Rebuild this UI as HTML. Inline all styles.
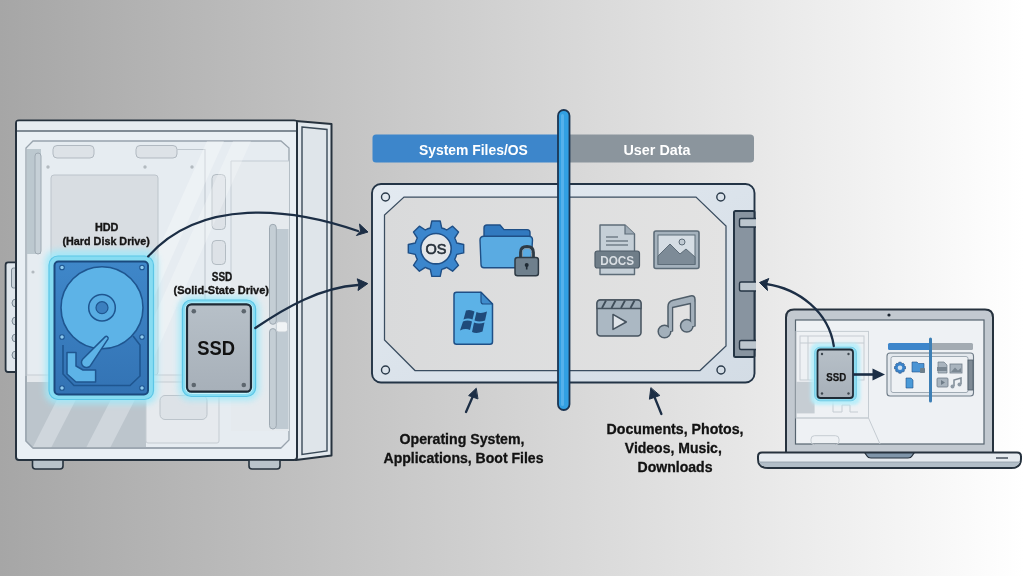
<!DOCTYPE html>
<html><head><meta charset="utf-8">
<style>
html,body{margin:0;padding:0;width:1024px;height:576px;overflow:hidden;}
body{background:linear-gradient(90deg,#a6a6a6 0%,#ffffff 100%);font-family:"Liberation Sans",sans-serif;}
svg{position:absolute;left:0;top:0;will-change:transform;}
text{-webkit-font-smoothing:antialiased;}
</style></head><body>
<svg width="1024" height="576" viewBox="0 0 1024 576" font-family="Liberation Sans, sans-serif">
<defs>
  <filter id="glow" x="-40%" y="-40%" width="180%" height="180%">
    <feGaussianBlur stdDeviation="3"/>
  </filter>
  <filter id="glow2" x="-40%" y="-40%" width="180%" height="180%">
    <feGaussianBlur stdDeviation="1.6"/>
  </filter>
  <linearGradient id="hddg" x1="0" y1="0" x2="0" y2="1">
    <stop offset="0" stop-color="#3f87c9"/><stop offset="1" stop-color="#3373b4"/>
  </linearGradient>
  <linearGradient id="ssdg" x1="0" y1="0" x2="0" y2="1">
    <stop offset="0" stop-color="#b7c0c8"/><stop offset="1" stop-color="#a7b0b9"/>
  </linearGradient>
  <linearGradient id="innerg" x1="0" y1="0" x2="1" y2="0">
    <stop offset="0" stop-color="#d9dadb"/><stop offset="1" stop-color="#e3e3e3"/>
  </linearGradient>
  <linearGradient id="frameg" x1="0" y1="0" x2="1" y2="1">
    <stop offset="0" stop-color="#e3eaf1"/><stop offset="1" stop-color="#d3dce5"/>
  </linearGradient>
</defs>

<!-- ================= PC CASE ================= -->
<g id="case">
  <!-- front IO bump -->
  <rect x="5.6" y="262.4" width="12" height="109.6" rx="2.5" fill="#dfe6ec" stroke="#26323e" stroke-width="1.8"/>
  <g fill="#c9d2d9" stroke="#7d8a95" stroke-width="1">
    <rect x="11.5" y="268" width="5" height="20" rx="2"/>
    <path d="M16,299 A3.5,3.5 0 0 0 16,307 Z"/>
    <path d="M16,317 A3.5,3.5 0 0 0 16,325 Z"/>
    <path d="M16,334 A3.5,3.5 0 0 0 16,342 Z"/>
    <path d="M16,351 A3.5,3.5 0 0 0 16,359 Z"/>
  </g>
  <!-- side panel -->
  <polygon points="296,121 331.5,124 331.5,455.5 296,460" fill="#e2e8ed" stroke="#26323e" stroke-width="2" stroke-linejoin="round"/>
  <polygon points="302,127 327,129.5 327,451 302,454.5" fill="#dfe5ea" stroke="#3a4a58" stroke-width="1.4"/>
  <!-- front body -->
  <rect x="16" y="120.5" width="281" height="339.5" rx="3" fill="#e9eff4" stroke="#26323e" stroke-width="2"/>
  <rect x="17" y="121.5" width="279" height="9.5" fill="#e6ecf1"/>
  <line x1="17" y1="131" x2="296" y2="131" stroke="#5c6a76" stroke-width="1.3"/>
  <!-- inner frame -->
  <path d="M33,141 L281,141 L289,148 L289,440 L281,448 L33,448 L26,441 L26,148 Z" fill="#e6ecf1" stroke="#98a3ad" stroke-width="1.3"/>
  <!-- top slots -->
  <rect x="53" y="145.5" width="41" height="12.5" rx="4" fill="#dde2e7" stroke="#b1b9c1" stroke-width="1"/>
  <rect x="136" y="145.5" width="41" height="12.5" rx="4" fill="#dde2e7" stroke="#b1b9c1" stroke-width="1"/>
  <!-- rail left -->
  <rect x="27" y="149" width="14" height="105" fill="#bcc8cf"/>
  <rect x="35" y="153" width="6" height="101" rx="3" fill="#c6d0d7" stroke="#9ea9b2" stroke-width="1"/>
  <line x1="26.6" y1="254" x2="26.6" y2="376" stroke="#b3bcc4" stroke-width="1.2"/>
  <!-- dots -->
  <g fill="#b3bac0">
  <circle cx="48" cy="167" r="1.7"/><circle cx="145" cy="167" r="1.7"/><circle cx="192" cy="167" r="1.7"/><circle cx="33" cy="272" r="1.6"/>
  </g>
  <!-- HDD bay panel -->
  <rect x="51" y="175" width="107" height="200" rx="3" fill="#d8dde2" stroke="#bcc4cb" stroke-width="1"/>
  <!-- mid panel outline -->
  <path d="M177,149.5 L205,149.5 L205,376" fill="none" stroke="#bfc7ce" stroke-width="1.1"/>
  <!-- vertical slots -->
  <rect x="212" y="174.5" width="13.5" height="55" rx="4" fill="#dde2e7" stroke="#b3bcc3" stroke-width="1"/>
  <rect x="212" y="240.5" width="13.5" height="24" rx="4" fill="#dde2e7" stroke="#b3bcc3" stroke-width="1"/>
  <!-- right panel -->
  <rect x="231" y="161" width="58" height="270" fill="#e5eaee"/>
  <path d="M231,280 L231,161 L289,161" fill="none" stroke="#c3cbd2" stroke-width="1"/>
  <rect x="276" y="229" width="12.5" height="200" fill="#bfcad2"/>
  <rect x="269.5" y="224.3" width="6.8" height="100" rx="3.4" fill="#c4ced5" stroke="#9ea9b2" stroke-width="1"/>
  <rect x="269.5" y="328.6" width="6.8" height="100.4" rx="3.4" fill="#c4ced5" stroke="#9ea9b2" stroke-width="1"/>
  <rect x="276.3" y="321.7" width="11.3" height="10.3" rx="2.5" fill="#f0f3f5" stroke="#c4ccd3" stroke-width="1"/>
  <!-- horizontal band -->
  <rect x="27" y="375" width="204" height="7" fill="#e4e8ec"/>
  <line x1="27" y1="375" x2="231" y2="375" stroke="#c6cdd3" stroke-width="1"/>
  <!-- PSU shroud -->
  <clipPath id="psuclip"><polygon points="27,382 146,382 146,447.5 33,447.5 27,441.5"/></clipPath>
  <polygon points="27,382 146,382 146,447.5 33,447.5 27,441.5" fill="#bcc5cc"/>
  <g clip-path="url(#psuclip)" fill="#cfd6dc">
    <polygon points="32.5,448 51,448 85,382 66,382"/>
    <polygon points="86,448 110,448 144,382 120,382"/>
  </g>
  <rect x="146" y="382" width="73" height="61" rx="2" fill="#e6eaee" stroke="#c5ccd2" stroke-width="1"/>
  <rect x="160" y="395.5" width="47" height="24" rx="5" fill="#dde2e7" stroke="#bcc4cb" stroke-width="1"/>
  <path d="M33,448 L26,441 L26,376" fill="none" stroke="#98a3ad" stroke-width="1.3"/>
  <line x1="33" y1="448" x2="281" y2="448" stroke="#98a3ad" stroke-width="1.3"/>
  <!-- glass reflections -->
  <clipPath id="glassclip"><rect x="27" y="141" width="261" height="234"/></clipPath>
  <g clip-path="url(#glassclip)" fill="#ffffff">
    <polygon points="207,141 224,141 119,375 102,375" opacity="0.3"/>
    <polygon points="233,141 251,141 146,375 128,375" opacity="0.25"/>
  </g>
  <!-- feet -->
  <path d="M32.5,460 L63,460 L63,466 Q63,469 60,469 L35.5,469 Q32.5,469 32.5,466 Z" fill="#b9c3cb" stroke="#26323e" stroke-width="1.6"/>
  <path d="M249,460 L280,460 L280,466 Q280,469 277,469 L252,469 Q249,469 249,466 Z" fill="#b9c3cb" stroke="#26323e" stroke-width="1.6"/>
</g>

<!-- ============ HDD ============ -->
<g id="hdd">
  <rect x="45" y="250" width="112.5" height="154" rx="12" fill="#9fe9fa" opacity="0.85" filter="url(#glow)"/>
  <rect x="49" y="256" width="104.5" height="143.5" rx="9" fill="#86dcf2" stroke="#5cc6e6" stroke-width="1.2"/>
  
  <rect x="54.5" y="261.5" width="93.5" height="133" rx="4" fill="url(#hddg)" stroke="#1b4a7e" stroke-width="2"/>
  <path d="M63,345 L63,374 L74,385.5 L130,385.5 L140,376 L140,345 L133,336" fill="none" stroke="#1f5690" stroke-width="1.6"/>
  <circle cx="102" cy="307.7" r="41" fill="#5db3e7" stroke="#1f5690" stroke-width="1.6"/>
  <circle cx="102" cy="307.7" r="13.3" fill="#58ade3" stroke="#1f5690" stroke-width="1.5"/>
  <circle cx="102" cy="307.7" r="6" fill="#3b7fbf" stroke="#1f5690" stroke-width="1.2"/>
  <path d="M105.1,336.9 A1.8,1.8 0 0 1 107.9,339.1 L90.4,365.7 A5,5 0 0 1 82.6,359.3 Z" fill="#5db3e7" stroke="#1f5690" stroke-width="1.5" stroke-linejoin="round"/>
  <path d="M67,352.5 L76,352.5 L76,366 L83,370 L95.6,370 L95.6,382 L76,382 L67,374 Z" fill="#5db3e7" stroke="#1f5690" stroke-width="1.5" stroke-linejoin="round"/>
  <g fill="#8fcbef" stroke="#1f5690" stroke-width="1.1">
    <circle cx="62" cy="267.5" r="2.3"/><circle cx="142" cy="267.5" r="2.3"/>
    <circle cx="62" cy="337" r="2.3"/><circle cx="142" cy="337" r="2.3"/>
    <circle cx="62" cy="388" r="2.3"/><circle cx="142" cy="388" r="2.3"/>
  </g>
</g>

<!-- ============ SSD ============ -->
<g id="ssd">
  <rect x="178.5" y="296.5" width="81" height="104" rx="12" fill="#9fe9fa" opacity="0.85" filter="url(#glow)"/>
  <rect x="182.4" y="300" width="73.2" height="96.5" rx="9" fill="#86dcf2" stroke="#5cc6e6" stroke-width="1.2"/>
  <rect x="185.4" y="303" width="67.2" height="90.5" rx="6" fill="none" stroke="#c6f3fb" stroke-width="1"/>
  <rect x="187" y="304.3" width="64" height="87.4" rx="4.5" fill="url(#ssdg)" stroke="#1f2a35" stroke-width="2.2"/>
  <g fill="#5d666e"><circle cx="193.8" cy="311.3" r="2.3"/><circle cx="243.8" cy="311.3" r="2.3"/><circle cx="193.8" cy="385" r="2.3"/><circle cx="243.8" cy="385" r="2.3"/></g>
  <text x="216.2" y="355.2" font-size="19.5" font-weight="bold" fill="#111" text-anchor="middle" textLength="37.8" lengthAdjust="spacingAndGlyphs">SSD</text>
</g>

<!-- labels -->
<g font-weight="bold" fill="#151515" stroke="#151515" stroke-width="0.35" text-anchor="middle">
  <text x="106.7" y="231" font-size="10" textLength="23.5" lengthAdjust="spacingAndGlyphs">HDD</text>
  <text x="106.2" y="245" font-size="11.5" textLength="87.5" lengthAdjust="spacingAndGlyphs">(Hard Disk Drive)</text>
  <text x="222" y="280.5" font-size="12" textLength="20.5" lengthAdjust="spacingAndGlyphs">SSD</text>
  <text x="221.3" y="293.5" font-size="11.5" textLength="95.5" lengthAdjust="spacingAndGlyphs">(Solid-State Drive)</text>
</g>

<!-- arrows from case -->
<g fill="none" stroke="#1c2e45" stroke-width="2.3" stroke-linecap="round">
  <path d="M148.2,256.4 C200.6,197.4 290.8,207.7 358,231"/>
  <path d="M255.3,328 C285.9,307.2 320.2,287.6 358,285"/>
</g>
<g fill="#1c2e45" stroke="#1c2e45" stroke-width="1" stroke-linejoin="round">
  <polygon points="368,232 359.5,224 360.5,231 356.4,235.5"/>
  <polygon points="367.8,283.6 357.2,278.8 359,284.8 358,290.5"/>
</g>

<!-- ============ CENTRAL DRIVE ============ -->
<g id="drive">
  <!-- tabs -->
  <path d="M376,134.5 L562,134.5 L562,162.5 L376,162.5 Q372.5,162.5 372.5,159 L372.5,138 Q372.5,134.5 376,134.5 Z" fill="#3d86cb"/>
  <path d="M562,134.5 L750,134.5 Q754,134.5 754,138 L754,159 Q754,162.5 750,162.5 L562,162.5 Z" fill="#8b959d"/>
  <text x="473.4" y="155" font-size="14.5" font-weight="bold" fill="#ffffff" text-anchor="middle" textLength="109" lengthAdjust="spacingAndGlyphs">System Files/OS</text>
  <text x="657" y="155" font-size="14.5" font-weight="bold" fill="#ffffff" text-anchor="middle" textLength="67" lengthAdjust="spacingAndGlyphs">User Data</text>

  <!-- frame -->
  <rect x="372" y="184" width="382.5" height="198.5" rx="9" fill="url(#frameg)" stroke="#233446" stroke-width="1.9"/>
  <path d="M404,197 L696,197 L726,226 L726,346 L700,370.5 L415,370.5 L384.5,340 L384.5,215 Z" fill="url(#innerg)" stroke="#3a4d60" stroke-width="1.25"/>
  <g fill="none" stroke="#2a3a4a" stroke-width="1.4">
    <circle cx="385.5" cy="197" r="4"/><circle cx="720.8" cy="197" r="4"/>
    <circle cx="385.5" cy="370" r="4"/><circle cx="721" cy="370" r="4"/>
  </g>
  <!-- connector -->
  <rect x="734" y="211" width="20.5" height="146" rx="1.5" fill="#8894a0" stroke="#243444" stroke-width="2"/>
  <g fill="#bcc6ce" stroke="#243444" stroke-width="1.4">
  <path d="M756,218.5 L741,218.5 Q739.5,218.5 739.5,220 L739.5,225.5 Q739.5,227 741,227 L756,227"/>
  <path d="M756,282 L741,282 Q739.5,282 739.5,283.5 L739.5,289.5 Q739.5,291 741,291 L756,291"/>
  <path d="M756,340.5 L741,340.5 Q739.5,340.5 739.5,342 L739.5,348 Q739.5,349.5 741,349.5 L756,349.5"/>
  </g>
</g>

<!-- icons left -->
<g id="gear" transform="translate(436,248.7)">
  <path d="M-5.7,-20.7 L-4.2,-27.7 L4.2,-27.7 L5.7,-20.7 A21.5,21.5 0 0 1 10.7,-18.7 L16.6,-22.5 L22.5,-16.6 L18.7,-10.7 A21.5,21.5 0 0 1 20.7,-5.7 L27.7,-4.2 L27.7,4.2 L20.7,5.7 A21.5,21.5 0 0 1 18.7,10.7 L22.5,16.6 L16.6,22.5 L10.7,18.7 A21.5,21.5 0 0 1 5.7,20.7 L4.2,27.7 L-4.2,27.7 L-5.7,20.7 A21.5,21.5 0 0 1 -10.7,18.7 L-16.6,22.5 L-22.5,16.6 L-18.7,10.7 A21.5,21.5 0 0 1 -20.7,5.7 L-27.7,4.2 L-27.7,-4.2 L-20.7,-5.7 A21.5,21.5 0 0 1 -18.7,-10.7 L-22.5,-16.6 L-16.6,-22.5 L-10.7,-18.7 A21.5,21.5 0 0 1 -5.7,-20.7 Z" fill="#3b86cd" stroke="#1f4f86" stroke-width="1.4" stroke-linejoin="round"/>
  <circle r="15.2" fill="#e3e6e9" stroke="#1f4f86" stroke-width="1.6"/>
  <text y="5" font-size="14" font-weight="normal" stroke="#27313b" stroke-width="0.6" fill="#27313b" text-anchor="middle" textLength="21" lengthAdjust="spacingAndGlyphs">OS</text>
</g>
<g id="folder">
  <path d="M484,228 Q484,225 487,225 L500,225 L504,229.6 L527,229.6 Q530,229.6 530,232.6 L530,262 L484,262 Z" fill="#3179bf" stroke="#1f4f86" stroke-width="1.4"/>
  <path d="M480,240 Q480,236.2 484,236.2 L529,236.2 Q532.5,236.2 532.5,240 L531,264.5 Q531,267.7 527.5,267.7 L484,267.7 Q481,267.7 481,264.5 Z" fill="#5aabe2" stroke="#1f4f86" stroke-width="1.4"/>
  <path d="M520.5,258 L520.5,252.5 Q520.5,246.5 527,246.5 Q533.5,246.5 533.5,252.5 L533.5,258" fill="none" stroke="#2e3a44" stroke-width="2.8"/>
  <path d="M522.5,257 L522.5,252.5 Q522.5,248.5 527,248.5 Q531.5,248.5 531.5,252.5 L531.5,257" fill="none" stroke="#8796a1" stroke-width="1"/>
  <rect x="515" y="257.5" width="23.4" height="18.3" rx="2.5" fill="#6f808d" stroke="#2e3a44" stroke-width="1.5"/>
  <circle cx="526.7" cy="265" r="2" fill="#1f2b35"/><rect x="525.9" y="265" width="1.6" height="4.5" fill="#1f2b35"/>
</g>
<g id="windoc">
  <path d="M456.5,292.3 L481,292.3 L492.5,304 L492.5,341.7 Q492.5,344.2 490,344.2 L456.5,344.2 Q454,344.2 454,341.7 L454,294.8 Q454,292.3 456.5,292.3 Z" fill="#5cb2e7" stroke="#1f4f86" stroke-width="1.5" stroke-linejoin="round"/>
  <path d="M481,292.3 L481,301.5 Q481,304 483.5,304 L492.5,304 Z" fill="#3f8ccc" stroke="#1f4f86" stroke-width="1.2" stroke-linejoin="round"/>
  <path d="M466,310.5 Q470,309 474.5,311.5 L472.5,319.5 Q468,317.5 463.5,319.5 Z M476.5,312 Q481,314 487,311.5 L485,320.5 Q479.5,322.5 474.5,320.5 Z M463,321.5 Q467.5,319.5 472,321.5 L470,330 Q465.5,328 460,330.5 Z M474,322.5 Q479,324.5 484.5,322.5 L482.5,331.5 Q477,334 472,332 Z" fill="#1f4a7a"/>
</g>

<!-- icons right -->
<g id="docs">
  <path d="M600,225 L625,225 L634.5,234 L634.5,274.5 L600,274.5 Z" fill="#c5cfd7" stroke="#5d6c78" stroke-width="1.4" stroke-linejoin="round"/>
  <path d="M625,225 L625,234 L634.5,234" fill="#9eabb6" stroke="#5d6c78" stroke-width="1.2"/>
  <g stroke="#6b7883" stroke-width="1.4"><line x1="606" y1="237" x2="618" y2="237"/><line x1="606" y1="241" x2="628" y2="241"/><line x1="606" y1="245" x2="628" y2="245"/></g>
  <rect x="595" y="251" width="44.5" height="17" rx="2.5" fill="#6f7d88" stroke="#4f5d69" stroke-width="1.2"/>
  <text x="617.2" y="264.5" font-size="12" font-weight="bold" fill="#d9dee3" text-anchor="middle" textLength="34" lengthAdjust="spacingAndGlyphs">DOCS</text>
</g>
<g id="img">
  <rect x="654" y="231" width="45" height="37.5" rx="2" fill="#a5b2bd" stroke="#5d6c78" stroke-width="1.6"/>
  <rect x="658" y="235" width="37" height="29.5" fill="#d5dde4" stroke="#5d6c78" stroke-width="1"/>
  <path d="M658,264.5 L658,256 L670,244 L680,254 L686,249 L695,257 L695,264.5 Z" fill="#7d8b97" stroke="#5d6c78" stroke-width="1"/>
  <circle cx="682" cy="242" r="3" fill="#c0cad3" stroke="#5d6c78" stroke-width="1"/>
</g>
<g id="clap">
  <rect x="597" y="300" width="44" height="36" rx="3.5" fill="#abb8c3" stroke="#45525e" stroke-width="1.5"/>
  <path d="M597,308.5 L597,303.5 Q597,300 600.5,300 L637.5,300 Q641,300 641,303.5 L641,308.5 Z" fill="#9dabb7" stroke="#45525e" stroke-width="1.3"/>
  <g stroke="#3f4d59" stroke-width="1.8"><line x1="602" y1="308" x2="606" y2="300.5"/><line x1="611.5" y1="308" x2="615.5" y2="300.5"/><line x1="621" y1="308" x2="625" y2="300.5"/><line x1="630.5" y1="308" x2="634.5" y2="300.5"/></g>
  <path d="M613,314.4 L626.3,322 L613,329.4 Z" fill="#dfe4e9" stroke="#45525e" stroke-width="1.5" stroke-linejoin="round"/>
</g>
<g id="music" fill="#a3b0bb" stroke="#4f5d69" stroke-width="1.5" stroke-linejoin="round">
  <path d="M668,331 L668,306.5 Q668,301.5 673,300.3 L690.5,296 Q695,295 695,299.5 L695,326 L690.5,326 L690.5,303.5 L672.5,307.5 L672.5,331 Z"/>
  <circle cx="664.5" cy="331.5" r="6.3"/>
  <circle cx="686.8" cy="325.8" r="6.3"/>
  <path d="M669,331 L669,307 L671.8,306.3 L671.8,331 Z M691.2,302.5 L694.2,301.8 L694.2,326 L691.2,326 Z" stroke="none"/>
</g>

<!-- divider -->
<rect x="558" y="110" width="11.5" height="300" rx="5.75" fill="#32a0e3" stroke="#1c3552" stroke-width="1.8"/>
<rect x="561" y="114" width="3" height="292" rx="1.5" fill="#6cbcf0" opacity="0.6"/>

<!-- small arrows -->
<g stroke="#1c2e45" stroke-width="2.3" fill="#1c2e45" stroke-linecap="round" stroke-linejoin="round">
  <line x1="466" y1="412" x2="473" y2="396"/>
  <polygon points="476,388.5 468.6,395.6 477.6,398.8" stroke-width="1"/>
  <line x1="661.4" y1="414" x2="654.5" y2="397"/>
  <polygon points="650.8,388 649.4,399.2 659.5,395.6" stroke-width="1"/>
</g>

<!-- bottom labels -->
<g font-weight="bold" fill="#121212" stroke="#121212" stroke-width="0.3" text-anchor="middle" font-size="13.8">
  <text x="462" y="444" textLength="125" lengthAdjust="spacingAndGlyphs">Operating System,</text>
  <text x="463.5" y="462.8" textLength="160" lengthAdjust="spacingAndGlyphs">Applications, Boot Files</text>
  <text x="675" y="434" textLength="137" lengthAdjust="spacingAndGlyphs">Documents, Photos,</text>
  <text x="673.3" y="453" textLength="97" lengthAdjust="spacingAndGlyphs">Videos, Music,</text>
  <text x="675" y="471.8" textLength="75" lengthAdjust="spacingAndGlyphs">Downloads</text>
</g>

<!-- ============ LAPTOP ============ -->
<g id="laptop">
  <path d="M786,453 L786,317.5 Q786,309.5 794,309.5 L985,309.5 Q993,309.5 993,317.5 L993,453 Z" fill="#c2c9d0" stroke="#26323e" stroke-width="2"/>
  <circle cx="889" cy="315" r="1.6" fill="#1b2530"/>
  <rect x="795.5" y="320" width="188.5" height="124" fill="#eef1f4" stroke="#56646f" stroke-width="1.2"/>
  <!-- ghost pc -->
  <g fill="none" stroke="#c5ccd2" stroke-width="1">
    <rect x="796" y="331.4" width="72.5" height="86.6"/>
    <rect x="800" y="336" width="64" height="44"/>
    <line x1="800" y1="343" x2="864" y2="343"/>
    <line x1="808" y1="336" x2="808" y2="380"/>
    <line x1="796" y1="418" x2="868.5" y2="418"/>
    <path d="M868.5,418 L880,444"/>
    <rect x="811" y="435.7" width="28" height="9" rx="3.5"/>
    <path d="M833,400 L833,412 L842,412 L842,405 L850,405 L850,412 L858,412"/>
  </g>
  <rect x="796" y="381.8" width="18.6" height="31.6" fill="#c6cdd3"/>
  <!-- small ssd -->
  <rect x="810.5" y="343" width="50" height="62" rx="7" fill="#b5eefa" opacity="0.9" filter="url(#glow2)"/>
  <rect x="814.6" y="347.2" width="41.8" height="53.6" rx="5.5" fill="#8fdcf0" stroke="#68c6e2" stroke-width="0.8"/>
  <rect x="817.5" y="349.5" width="35.5" height="48.5" rx="3" fill="url(#ssdg)" stroke="#1f2a35" stroke-width="1.8"/>
  <g fill="#3d464e"><circle cx="822" cy="354" r="1.2"/><circle cx="848.5" cy="354" r="1.2"/><circle cx="822" cy="393.5" r="1.2"/><circle cx="848.5" cy="393.5" r="1.2"/></g>
  <text x="836.2" y="380.6" font-size="11" font-weight="bold" fill="#151515" stroke="#151515" stroke-width="0.25" text-anchor="middle" textLength="19.9" lengthAdjust="spacingAndGlyphs">SSD</text>
  <!-- arrow to mini drive -->
  <line x1="853" y1="374.5" x2="874" y2="374.5" stroke="#1c2e45" stroke-width="2.6"/>
  <polygon points="885,374.5 872.5,368.5 872.5,380.5" fill="#1c2e45"/>
  <!-- mini drive -->
  <rect x="888" y="343" width="43" height="7" rx="1.5" fill="#3d86cb"/>
  <rect x="931" y="343" width="42" height="7" rx="1.5" fill="#a3abb2"/>
  <rect x="887" y="353" width="86.5" height="43" rx="3" fill="#e3e8ed" stroke="#6f7c88" stroke-width="1.1"/>
  <rect x="891" y="356.5" width="77" height="36" rx="2" fill="#eef1f4" stroke="#8d99a4" stroke-width="0.8"/>
  <rect x="968" y="360" width="5" height="30" fill="#7e8a95" stroke="#4f5d69" stroke-width="0.8"/>
  <g transform="translate(900,367.7)"><path d="M-1.2,-5.5 L1.2,-5.5 L1.6,-4 L3.3,-4.4 L4.4,-3.3 L4,-1.6 L5.5,-1.2 L5.5,1.2 L4,1.6 L4.4,3.3 L3.3,4.4 L1.6,4 L1.2,5.5 L-1.2,5.5 L-1.6,4 L-3.3,4.4 L-4.4,3.3 L-4,1.6 L-5.5,1.2 L-5.5,-1.2 L-4,-1.6 L-4.4,-3.3 L-3.3,-4.4 L-1.6,-4 Z" fill="#3a84cc" stroke="#1f4f86" stroke-width="0.6"/><circle r="2.3" fill="#cfe0ef"/></g>
  <path d="M912,362 L917,362 L918.5,363.5 L924,363.5 L924,372 L912,372 Z" fill="#4a94d4" stroke="#1f4f86" stroke-width="0.6"/>
  <rect x="920" y="368" width="5" height="5" rx="0.8" fill="#6d7f8c"/>
  <path d="M906,378 L911,378 L913,380 L913,388 L906,388 Z" fill="#4a9ad8" stroke="#1f4f86" stroke-width="0.6"/>
  <path d="M938,362 L944,362 L947,365 L947,373 L938,373 Z" fill="#a9b4be" stroke="#6f7c88" stroke-width="0.7"/>
  <rect x="937" y="367" width="10" height="4" fill="#7a8792"/>
  <rect x="950" y="364" width="12" height="9" fill="#a9b4be" stroke="#6f7c88" stroke-width="0.8"/>
  <path d="M951,372 L955,367.5 L958,370.5 L961,368 L961,372 Z" fill="#7a8792"/>
  <rect x="937" y="378" width="11" height="9" rx="1" fill="#a9b4be" stroke="#6f7c88" stroke-width="0.8"/>
  <path d="M941,380 L945,382.5 L941,385 Z" fill="#6f7c88"/>
  <path d="M954,386 L954,380 L961,378 L961,384" fill="none" stroke="#7e8a95" stroke-width="1.5"/>
  <circle cx="952.5" cy="386.5" r="2" fill="#8e9aa5"/><circle cx="959.5" cy="384.5" r="2" fill="#8e9aa5"/>
  <rect x="929" y="337.5" width="3" height="65" rx="1.5" fill="#3d7fb5"/>
  <!-- base -->
  <path d="M762,452.5 L1017,452.5 Q1021,452.5 1021,456.5 L1021,459 Q1021,468 1011,468 L768,468 Q758,468 758,459 L758,456.5 Q758,452.5 762,452.5 Z" fill="#e6ebf0" stroke="#26323e" stroke-width="2"/>
  <path d="M759,462 L1020,462 Q1018,467 1011,467 L768,467 Q761,467 759,462 Z" fill="#b2bec8"/>
  <line x1="759" y1="462" x2="1020" y2="462" stroke="#8f9ca7" stroke-width="0.8"/>
  <path d="M865,453 L914,453 L912,456 Q911,458 908,458 L871,458 Q868,458 867,456 Z" fill="#7f95a9" stroke="#26323e" stroke-width="1.2"/>
  <line x1="996" y1="458" x2="1008" y2="458" stroke="#3a4652" stroke-width="1.4"/>
</g>

<!-- laptop arc arrow -->
<path d="M833.8,346 C828.7,311.8 798.7,288.7 766,284" fill="none" stroke="#1c2e45" stroke-width="2.3" stroke-linecap="round"/>
<polygon points="759.5,282.5 768.8,278.5 766.5,284 767.5,290.5" fill="#1c2e45" stroke="#1c2e45" stroke-width="1" stroke-linejoin="round"/>

</svg>
</body></html>
